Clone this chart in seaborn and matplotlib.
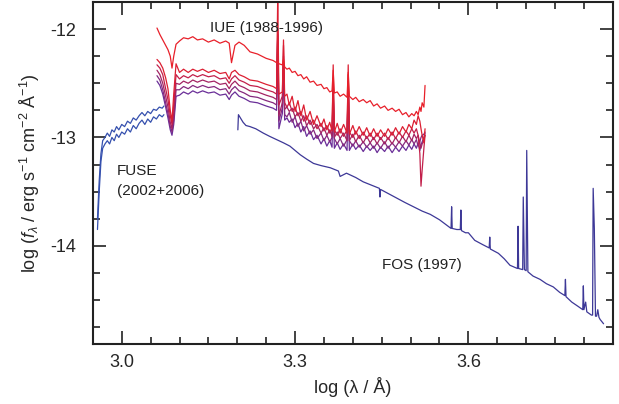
import numpy as np
import pandas as pd
import matplotlib
matplotlib.use('Agg')
import matplotlib.pyplot as plt
import seaborn as sns
from matplotlib.ticker import MultipleLocator

# FUSE (2002+2006) 两条谱
fuse_x = [2.958, 2.961, 2.964, 2.967, 2.971, 2.975, 2.979, 2.983, 2.987, 2.991, 2.995, 3.000, 3.005, 3.010,
          3.015, 3.020, 3.025, 3.030, 3.035, 3.040, 3.045, 3.050, 3.055, 3.060, 3.065, 3.070, 3.073]
fuse_a = [-13.75, -13.40, -13.15, -13.03, -13.00, -12.96, -12.99, -12.93, -12.95, -12.90, -12.93, -12.88, -12.90, -12.85,
          -12.87, -12.82, -12.84, -12.80, -12.77, -12.80, -12.76, -12.78, -12.74, -12.75, -12.72, -12.73, -12.71]
fuse_b = [-13.85, -13.50, -13.22, -13.10, -13.06, -13.03, -13.06, -13.00, -13.03, -12.97, -13.00, -12.95, -12.97, -12.92,
          -12.95, -12.89, -12.92, -12.87, -12.84, -12.88, -12.83, -12.86, -12.81, -12.83, -12.79, -12.81, -12.79]

# IUE (1988-1996) 六条谱, 共用波长
iue_x = [3.061, 3.066, 3.071, 3.076, 3.080, 3.084, 3.087, 3.090, 3.094, 3.100, 3.107, 3.115, 3.123, 3.131,
         3.140, 3.150, 3.160, 3.170, 3.180, 3.186, 3.190, 3.196, 3.203, 3.212, 3.222, 3.235, 3.250, 3.262,
         3.268, 3.270, 3.272, 3.278, 3.280, 3.282,
         3.286, 3.290, 3.295, 3.300, 3.305, 3.310, 3.315, 3.320, 3.326, 3.332, 3.338, 3.345, 3.350, 3.355,
         3.360, 3.364, 3.366, 3.368, 3.373, 3.378, 3.384, 3.390, 3.392, 3.394, 3.400, 3.405, 3.411, 3.418,
         3.424, 3.430, 3.436, 3.442, 3.448, 3.455, 3.461, 3.468, 3.474, 3.480, 3.486, 3.492, 3.497, 3.502,
         3.506, 3.510, 3.513, 3.516, 3.518, 3.520, 3.523, 3.525]
iue_1 = [-11.99, -12.05, -12.10, -12.15, -12.19, -12.25, -12.36, -12.25, -12.14, -12.11, -12.08, -12.09, -12.07, -12.10,
         -12.09, -12.12, -12.10, -12.13, -12.11, -12.13, -12.31, -12.15, -12.12, -12.15, -12.21, -12.23, -12.27, -12.29,
         -12.31, -12.30, -12.32, -12.33, -12.28, -12.35,
         -12.37, -12.36, -12.40, -12.39, -12.43, -12.42, -12.46, -12.44, -12.49, -12.48, -12.52, -12.51, -12.55, -12.54,
         -12.58, -12.57, -12.38, -12.59, -12.58, -12.62, -12.60, -12.63, -12.40, -12.62, -12.65, -12.63, -12.67, -12.65,
         -12.68, -12.66, -12.71, -12.69, -12.73, -12.71, -12.75, -12.73, -12.76, -12.74, -12.79, -12.77, -12.81, -12.78,
         -12.80, -12.76, -12.79, -12.72, -12.76, -12.68, -12.72, -12.52]
iue_2 = [-12.28, -12.31, -12.36, -12.45, -12.55, -12.75, -12.85, -12.60, -12.32, -12.40, -12.37, -12.40, -12.37, -12.39,
         -12.37, -12.40, -12.38, -12.41, -12.40, -12.46, -12.40, -12.38, -12.42, -12.44, -12.47, -12.48, -12.51, -12.53,
         -12.55, -11.70, -12.60, -12.58, -12.10, -12.62,
         -12.60, -12.70, -12.62, -12.76, -12.66, -12.80, -12.70, -12.84, -12.76, -12.88, -12.80, -12.90, -12.83, -12.93,
         -12.86, -12.94, -12.33, -12.95, -12.87, -12.96, -12.88, -12.96, -12.33, -12.97, -12.89, -12.97, -12.90, -12.98,
         -12.91, -12.99, -12.92, -12.99, -12.93, -12.99, -12.92, -12.98, -12.91, -12.97, -12.90, -12.95, -12.88, -12.92,
         -12.84, -12.88, -12.80, -12.85, -12.92, -12.98, -13.05, -12.92]
iue_3 = [-12.33, -12.36, -12.42, -12.55, -12.65, -12.80, -12.88, -12.70, -12.42, -12.46, -12.43, -12.45, -12.42, -12.44,
         -12.42, -12.44, -12.43, -12.46, -12.45, -12.50, -12.46, -12.43, -12.47, -12.49, -12.52, -12.53, -12.56, -12.58,
         -12.60, -12.00, -12.70, -12.62, -12.15, -12.68,
         -12.72, -12.68, -12.76, -12.72, -12.80, -12.76, -12.85, -12.80, -12.88, -12.84, -12.92, -12.87, -12.94, -12.89,
         -12.96, -12.91, -12.45, -12.93, -12.98, -12.92, -12.99, -12.93, -12.42, -12.95, -13.00, -12.94, -13.01, -12.95,
         -13.01, -12.96, -13.02, -12.96, -13.02, -12.96, -13.02, -12.95, -13.01, -12.95, -13.00, -12.94, -12.98, -12.92,
         -12.96, -12.92, -12.98, -13.15, -13.45, -13.30, -13.10, -12.98]
iue_4 = [-12.38, -12.42, -12.50, -12.62, -12.72, -12.86, -12.92, -12.78, -12.50, -12.51, -12.48, -12.50, -12.47, -12.49,
         -12.47, -12.49, -12.48, -12.51, -12.50, -12.55, -12.51, -12.48, -12.52, -12.54, -12.57, -12.58, -12.61, -12.63,
         -12.65, -12.05, -12.80, -12.68, -12.25, -12.74,
         -12.72, -12.76, -12.73, -12.81, -12.77, -12.85, -12.80, -12.89, -12.84, -12.92, -12.88, -12.96, -12.91, -12.98,
         -12.93, -12.99, -12.55, -13.00, -12.95, -13.01, -12.96, -13.03, -12.50, -13.03, -12.97, -13.04, -12.98, -13.05,
         -12.99, -13.05, -13.00, -13.06, -13.00, -13.06, -13.00, -13.06, -13.00, -13.05, -12.99, -13.04, -12.98, -13.03,
         -12.97, -13.01, -12.98, -13.05, -13.10, -13.06, -13.02, -12.98]
iue_5 = [-12.43, -12.47, -12.56, -12.68, -12.78, -12.90, -12.95, -12.84, -12.56, -12.56, -12.53, -12.55, -12.52, -12.54,
         -12.52, -12.54, -12.53, -12.56, -12.55, -12.60, -12.56, -12.53, -12.57, -12.59, -12.62, -12.63, -12.66, -12.68,
         -12.70, -12.03, -12.85, -12.73, -12.30, -12.79,
         -12.81, -12.77, -12.86, -12.81, -12.90, -12.85, -12.94, -12.89, -12.97, -12.93, -13.01, -12.96, -13.03, -12.98,
         -13.04, -13.00, -12.58, -13.01, -13.06, -13.01, -13.08, -13.02, -12.48, -13.03, -13.08, -13.03, -13.09, -13.04,
         -13.09, -13.05, -13.10, -13.05, -13.10, -13.04, -13.10, -13.05, -13.09, -13.04, -13.08, -13.03, -13.07, -13.02,
         -13.06, -13.02, -13.08, -13.04, -13.00, -12.98, -12.97, -12.95]
iue_6 = [-12.48, -12.52, -12.60, -12.72, -12.82, -12.93, -12.98, -12.88, -12.62, -12.61, -12.58, -12.60, -12.57, -12.59,
         -12.57, -12.59, -12.58, -12.61, -12.60, -12.65, -12.61, -12.58, -12.62, -12.64, -12.67, -12.68, -12.71, -12.73,
         -12.75, -12.05, -12.92, -12.78, -12.35, -12.84,
         -12.82, -12.86, -12.83, -12.91, -12.87, -12.95, -12.90, -12.99, -12.94, -13.02, -12.98, -13.06, -13.01, -13.08,
         -13.03, -13.09, -12.62, -13.10, -13.05, -13.11, -13.06, -13.12, -12.50, -13.12, -13.06, -13.11, -13.07, -13.13,
         -13.08, -13.12, -13.08, -13.14, -13.09, -13.13, -13.08, -13.14, -13.09, -13.13, -13.08, -13.12, -13.07, -13.11,
         -13.06, -13.10, -13.05, -13.12, -13.07, -13.04, -13.00, -12.96]

# FOS (1997)
fos_x = [3.201, 3.202, 3.210, 3.215, 3.222, 3.232, 3.245, 3.256, 3.268, 3.280, 3.291, 3.300, 3.309, 3.320,
         3.332, 3.345, 3.361, 3.375, 3.378, 3.389, 3.405, 3.418, 3.432, 3.446, 3.447, 3.448, 3.462, 3.476,
         3.490, 3.505, 3.520, 3.534, 3.550, 3.565, 3.570, 3.571, 3.572, 3.580, 3.586, 3.587, 3.588, 3.595,
         3.600, 3.611, 3.625, 3.636, 3.637, 3.638, 3.652, 3.662, 3.672, 3.685, 3.686, 3.687, 3.694, 3.695,
         3.697, 3.700, 3.701, 3.703, 3.712, 3.724, 3.735, 3.747, 3.758, 3.767, 3.768, 3.769, 3.779, 3.790,
         3.798, 3.799, 3.800, 3.803, 3.805, 3.813, 3.815, 3.816, 3.818, 3.820, 3.822, 3.824, 3.826, 3.828, 3.834]
fos_y = [-12.93, -12.79, -12.86, -12.89, -12.90, -12.92, -12.96, -12.99, -13.02, -13.05, -13.08, -13.12, -13.16, -13.20,
         -13.24, -13.26, -13.28, -13.31, -13.36, -13.33, -13.37, -13.41, -13.44, -13.47, -13.55, -13.48, -13.52, -13.56,
         -13.60, -13.64, -13.68, -13.71, -13.76, -13.82, -13.84, -13.64, -13.84, -13.85, -13.85, -13.67, -13.86, -13.88,
         -13.88, -13.95, -13.99, -14.02, -13.92, -14.03, -14.07, -14.12, -14.18, -14.21, -13.82, -14.21, -14.22, -13.55,
         -14.22, -14.23, -13.12, -14.24, -14.28, -14.31, -14.35, -14.38, -14.43, -14.46, -14.31, -14.47, -14.52, -14.56,
         -14.59, -14.37, -14.59, -14.52, -14.61, -14.64, -14.64, -13.47, -13.84, -14.65, -14.65, -14.59, -14.66, -14.68, -14.72]

iue_list = [iue_1, iue_2, iue_3, iue_4, iue_5, iue_6]
iue_colors = ['#e8202a', '#dc1f32', '#c21f4a', '#a32463', '#85297e', '#6a2e98']

frames = []
frames.append(pd.DataFrame({'x': fuse_x, 'y': fuse_a, 'spec': 'fuse_a'}))
frames.append(pd.DataFrame({'x': fuse_x, 'y': fuse_b, 'spec': 'fuse_b'}))
for i, vals in enumerate(iue_list):
    frames.append(pd.DataFrame({'x': iue_x, 'y': vals, 'spec': 'iue_%d' % (i + 1)}))
frames.append(pd.DataFrame({'x': fos_x, 'y': fos_y, 'spec': 'fos'}))
df = pd.concat(frames, ignore_index=True)

palette = {'fuse_a': '#3550ae', 'fuse_b': '#3550ae', 'fos': '#3d3897'}
for i, c in enumerate(iue_colors):
    palette['iue_%d' % (i + 1)] = c

sns.set_style('ticks')
plt.rcParams['font.family'] = ['Liberation Sans', 'DejaVu Sans']
plt.rcParams['mathtext.fontset'] = 'custom'
plt.rcParams['mathtext.rm'] = 'Liberation Sans'
plt.rcParams['mathtext.it'] = 'Liberation Sans:italic'
plt.rcParams['axes.unicode_minus'] = False

fig = plt.figure(figsize=(6.19, 4.04), dpi=100)
ax = fig.add_axes([0.150, 0.149, 0.840, 0.846])

# 先画FOS, 再画FUSE和IUE (红色在最上)
order = ['fos', 'fuse_a', 'fuse_b', 'iue_6', 'iue_5', 'iue_4', 'iue_3', 'iue_2', 'iue_1']
for name in order:
    sns.lineplot(data=df[df['spec'] == name], x='x', y='y', color=palette[name],
                 estimator=None, lw=0.9, ax=ax, legend=False)

ax.set_xlim(2.95, 3.85)
ax.set_ylim(-14.905, -11.75)
ax.xaxis.set_major_locator(MultipleLocator(0.3))
ax.xaxis.set_minor_locator(MultipleLocator(0.05))
ax.yaxis.set_major_locator(MultipleLocator(1))
ax.yaxis.set_minor_locator(MultipleLocator(0.25))
ax.xaxis.set_major_formatter(plt.FuncFormatter(lambda v, p: '%.1f' % v))
ax.yaxis.set_major_formatter(plt.FuncFormatter(lambda v, p: '%d' % round(v)))

ax.tick_params(which='both', direction='in', top=True, right=True, color='#222222', width=1.2)
ax.tick_params(which='major', length=9.5)
ax.tick_params(which='minor', length=5)
ax.tick_params(axis='x', labelsize=13, pad=7)
ax.tick_params(axis='y', labelsize=13, pad=12)
for s in ax.spines.values():
    s.set_linewidth(1.5)
    s.set_color('#222222')

ax.set_xlabel('log (λ / Å)', fontsize=13, labelpad=5)
ax.set_ylabel(r'log ($f_{\lambda}$ / erg s$^{-1}$ cm$^{-2}$ Å$^{-1}$)', fontsize=13, labelpad=6)

ax.text(3.153, -11.99, 'IUE (1988-1996)', fontsize=11, ha='left', va='center', color='#222222')
ax.text(2.992, -13.31, 'FUSE', fontsize=11, ha='left', va='center', color='#222222')
ax.text(2.992, -13.49, '(2002+2006)', fontsize=11, ha='left', va='center', color='#222222')
ax.text(3.450, -14.18, 'FOS (1997)', fontsize=11, ha='left', va='center', color='#222222')

fig.savefig('out.png', dpi=100)
